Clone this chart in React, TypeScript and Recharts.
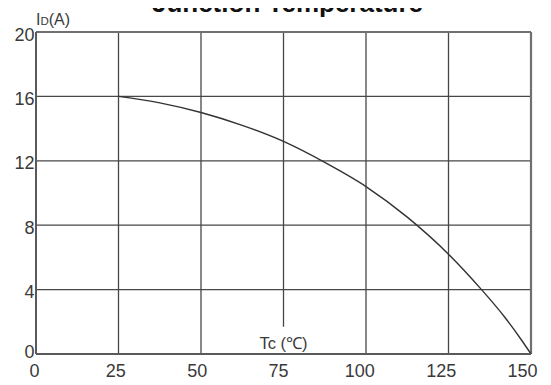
import React from "react";
import { LineChart, Line, XAxis, YAxis, CartesianGrid, ReferenceLine } from "recharts";

const temps = [25, 37.5, 50, 62.5, 75, 87.5, 100, 112.5, 125, 135, 142, 147, 150];
const currents = [16, 15.6, 15.0, 14.2, 13.2, 11.9, 10.4, 8.5, 6.2, 4.0, 2.3, 0.9, 0];
const xTicks = [0, 25, 50, 75, 100, 125, 150];
const yTicks = [0, 4, 8, 12, 16, 20];
const vGrid = [25, 50, 100, 125];

const data = temps.map((t, i) => ({ t, i: currents[i] }));

const FONT = 'Arial, "Liberation Sans", Helvetica, sans-serif';

const XTick = (props: any) => {
  const { x, y, payload } = props;
  const shift = -1.5 - (payload.value / 150) * 7;
  return (
    <text x={x + shift} y={y + 22.5} textAnchor="middle" fontSize={18} fill="#3a3a3a" fontFamily={FONT}>
      {payload.value}
    </text>
  );
};

const YTick = (props: any) => {
  const { x, y, payload } = props;
  const dy = payload.value === 0 ? 4 : 8.5;
  return (
    <text x={x} y={y + dy} textAnchor="end" fontSize={18} fill="#3a3a3a" fontFamily={FONT}>
      {payload.value}
    </text>
  );
};

export default function App() {
  return (
    <div style={{ margin: -8, position: "relative", width: 551, height: 385, background: "#fff", overflow: "hidden" }}>
      <LineChart width={551} height={385} data={data} margin={{ top: 32, right: 20, bottom: 0, left: 0 }}>
        <CartesianGrid vertical={false} stroke="#474747" strokeWidth={1.3} />
        <XAxis
          dataKey="t"
          type="number"
          domain={[0, 150]}
          ticks={xTicks}
          height={31}
          tickSize={0}
          tickMargin={0}
          tickLine={false}
          axisLine={{ stroke: "#5a5a5a", strokeWidth: 2 }}
          tick={<XTick />}
          interval={0}
        />
        <YAxis
          type="number"
          domain={[0, 20]}
          ticks={yTicks}
          width={36}
          tickSize={0}
          tickMargin={1.5}
          tickLine={false}
          axisLine={{ stroke: "#5a5a5a", strokeWidth: 2 }}
          tick={<YTick />}
          interval={0}
        />
        {vGrid.map((v) => (
          <ReferenceLine key={v} x={v} stroke="#474747" strokeWidth={1.3} />
        ))}
        <ReferenceLine
          segment={[
            { x: 75, y: 20 },
            { x: 75, y: 1.7 },
          ]}
          stroke="#474747"
          strokeWidth={1.3}
        />
        <ReferenceLine y={20} stroke="#707070" strokeWidth={2.2} />
        <ReferenceLine x={150} stroke="#707070" strokeWidth={2.2} />
        <Line
          dataKey="i"
          type="monotone"
          stroke="#333"
          strokeWidth={1.4}
          dot={false}
          isAnimationActive={false}
        />
      </LineChart>
      <svg width={551} height={385} style={{ position: "absolute", left: 0, top: 0, pointerEvents: "none" }}>
        <text x={287.5} y={12} textAnchor="middle" fontSize={26} fontWeight="bold" fill="#111" fontFamily={FONT}>
          Junction Temperature
        </text>
        <text x={36} y={25} fontSize={16} fill="#3a3a3a" fontFamily={FONT}>
          I<tspan fontSize={11.5}>D</tspan>(A)
        </text>
        <text x={283.5} y={349} textAnchor="middle" fontSize={16.5} fill="#3a3a3a" fontFamily={FONT}>
          Tc (℃)
        </text>
      </svg>
    </div>
  );
}
